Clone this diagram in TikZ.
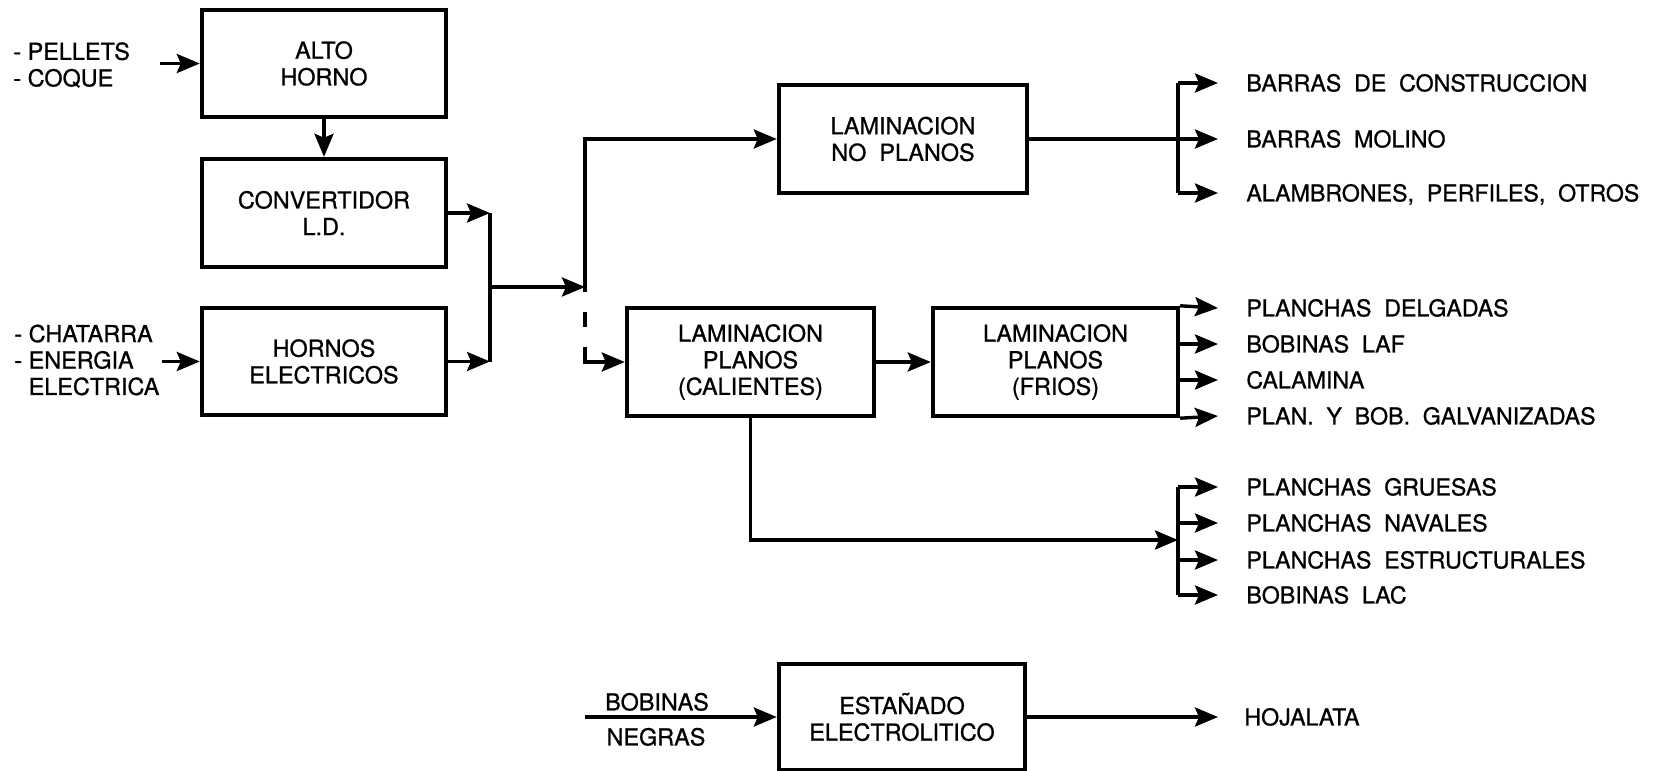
\documentclass[tikz,border=0pt]{standalone}
\usepackage{fontspec}
\setmainfont{TeX Gyre Heros}[FakeBold=0.9]
\usetikzlibrary{arrows.meta,calc}
\newcommand{\bxf}{\fontsize{11.7pt}{13.3pt}\selectfont}
\newcommand{\lbf}{\fontsize{11.6pt}{13pt}\selectfont\spaceskip=0.55em plus 0.1em}
\begin{document}
\begin{tikzpicture}[x=0.5pt,y=-0.5pt,
  blk/.style={draw,line width=2.2pt,inner sep=0pt,align=center,font=\bxf},
  ln/.style={line width=1.7pt},
  arr/.style={line width=1.7pt,-{Stealth[length=11.5pt,width=9.5pt,inset=2pt]}},
  lbl/.style={anchor=west,inner xsep=14pt,inner ysep=0pt,font=\lbf,text height=8.4pt,text depth=0pt},
  lft/.style={anchor=west,align=left,inner sep=0pt,font=\bxf},
  txt/.style={inner sep=0pt,font=\bxf,text height=8.4pt,text depth=0pt}]
\useasboundingbox (0,0) rectangle (1661,771);

% boxes
\node[blk,minimum width=122pt,minimum height=53.5pt] (alto) at (324,63.5) {ALTO\\HORNO};
\node[blk,minimum width=122pt,minimum height=54pt] (conv) at (324,213) {CONVERTIDOR\\L.D.};
\node[blk,minimum width=122pt,minimum height=53.5pt] (horn) at (324,361.5) {HORNOS\\ELECTRICOS};
\node[blk,minimum width=124pt,minimum height=54pt] (lnp) at (903,139) {LAMINACION\\NO\ \ PLANOS};
\node[blk,minimum width=123.5pt,minimum height=54pt] (cal) at (750.5,362) {LAMINACION\\PLANOS\\(CALIENTES)};
\node[blk,minimum width=122.5pt,minimum height=54pt] (fri) at (1055.5,362) {LAMINACION\\PLANOS\\(FRIOS)};
\node[blk,minimum width=123pt,minimum height=53pt] (est) at (902,717) {ESTAÑADO\\ELECTROLITICO};

% left inputs
\node[lft] (in1) at (13,65) {- PELLETS\\- COQUE};
\node[lft,font=\fontsize{11.7pt}{13.2pt}\selectfont] (in2) at (14,360) {- CHATARRA\\- ENERGIA\\\hphantom{- }ELECTRICA};
\coordinate (ia) at (160,63.5);
\coordinate (ib) at (162,361.5);
\draw[arr] (ia) -- (alto.west);
\draw[arr] (ib) -- (horn.west);
\draw[arr] (alto) -- (conv);

% collecting bus
\coordinate (busT) at (490,213);
\coordinate (busB) at (490,361.5);
\coordinate (busM) at (490,287);
\coordinate (spM) at (585,287);
\coordinate (spEnd) at (585,292);
\draw[arr] (conv.east) -- (busT);
\draw[arr] (horn.east) -- (busB);
\draw[ln] (busT) -- (busB);
\draw[arr] (busM) -- (spM);
\draw[arr] (spEnd) |- (lnp.west);
\coordinate (da) at (585,312);
\coordinate (db) at (585,327);
\coordinate (dc) at (585,347);
\draw[ln] (da) -- (db);
\draw[arr] (dc) |- (cal.west);

% no planos outputs
\node[lbl] (bc) at (1218,83) {BARRAS DE CONSTRUCCION};
\node[lbl] (bm) at (1218,139) {BARRAS MOLINO};
\node[lbl] (al) at (1218,193) {ALAMBRONES, PERFILES, OTROS};
\coordinate (nb) at (1178,139);
\draw[ln] (lnp.east) -- (nb);
\draw[ln] (bc.west -| nb) -- (al.west -| nb);
\draw[arr] (bc.west -| nb) -- (bc.west);
\draw[arr] (nb) -- (bm.west);
\draw[arr] (al.west -| nb) -- (al.west);

% planos
\draw[arr] (cal) -- (fri);
\node[lbl] (pd) at (1218,308) {PLANCHAS DELGADAS};
\node[lbl] (bl) at (1218,344) {BOBINAS LAF};
\node[lbl] (ca) at (1218,380) {CALAMINA};
\node[lbl] (pb) at (1218,416) {PLAN. Y BOB. GALVANIZADAS};
\draw[arr] (fri.north east) -- (pd.west);
\draw[arr] (bl.west -| fri.east) -- (bl.west);
\draw[arr] (ca.west -| fri.east) -- (ca.west);
\draw[arr] (fri.south east) -- (pb.west);

\node[lbl] (pg) at (1218,487) {PLANCHAS GRUESAS};
\node[lbl] (pn) at (1218,523) {PLANCHAS NAVALES};
\node[lbl] (pe) at (1218,560) {PLANCHAS ESTRUCTURALES};
\node[lbl] (bq) at (1218,595) {BOBINAS LAC};
\coordinate (lb) at (1178,540);
\draw[arr] (cal.south) |- (lb);
\draw[ln] (pg.west -| lb) -- (bq.west -| lb);
\draw[arr] (pg.west -| lb) -- (pg.west);
\draw[arr] (pn.west -| lb) -- (pn.west);
\draw[arr] (pe.west -| lb) -- (pe.west);
\draw[arr] (bq.west -| lb) -- (bq.west);

% estanado
\node[txt] (bob) at (657,702) {BOBINAS};
\node[txt] (neg) at (656,737) {NEGRAS};
\coordinate (bn) at (585,717);
\draw[arr] (bn) -- (est.west);
\node[lbl,inner xsep=13pt] (hj) at (1218,717) {HOJALATA};
\draw[arr] (est.east) -- (hj.west);
\end{tikzpicture}
\end{document}
